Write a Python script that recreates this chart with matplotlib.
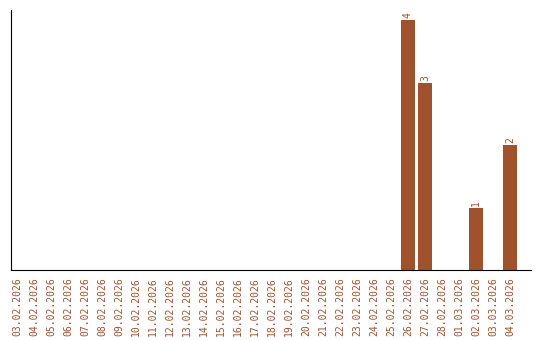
import matplotlib
matplotlib.use('Agg')
import matplotlib.pyplot as plt

# dates shown on the x axis
dates = ['03.02.2026', '04.02.2026', '05.02.2026', '06.02.2026', '07.02.2026',
         '08.02.2026', '09.02.2026', '10.02.2026', '11.02.2026', '12.02.2026',
         '13.02.2026', '14.02.2026', '15.02.2026', '16.02.2026', '17.02.2026',
         '18.02.2026', '19.02.2026', '20.02.2026', '21.02.2026', '22.02.2026',
         '23.02.2026', '24.02.2026', '25.02.2026', '26.02.2026', '27.02.2026',
         '28.02.2026', '01.03.2026', '02.03.2026', '03.03.2026', '04.03.2026']
counts = [0, 0, 0, 0, 0, 0, 0, 0, 0, 0,
          0, 0, 0, 0, 0, 0, 0, 0, 0, 0,
          0, 0, 0, 4, 3, 0, 0, 1, 0, 2]

color = '#a0522d'

fig = plt.figure(figsize=(5.4, 3.4), dpi=100)
ax = fig.add_axes([11/540, 70/340, 520/540, 260/340])

xs = list(range(len(dates)))
ax.bar(xs, counts, width=0.82, color=color)
for x, v in zip(xs, counts):
    if v:
        ax.text(x, v + 0.03, str(v), rotation=90, ha='center', va='bottom',
                fontsize=7, color=color, family='DejaVu Sans Mono')

ax.set_xlim(-0.353, 30.24)
ax.set_ylim(0, 4.16)
ax.set_xticks(xs)
ax.set_xticklabels(dates, rotation=90, fontsize=7, color=color,
                   family='DejaVu Sans Mono')
ax.tick_params(axis='x', length=0, pad=5)
ax.set_yticks([])
ax.spines['top'].set_visible(False)
ax.spines['right'].set_visible(False)

fig.savefig('out.png', dpi=100)
